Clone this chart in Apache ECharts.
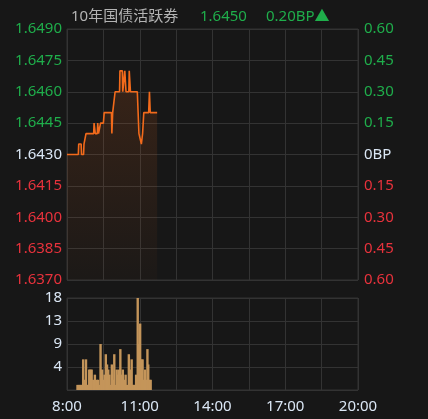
<!DOCTYPE html>
<html><head><meta charset="utf-8">
<script src="https://cdn.jsdelivr.net/npm/echarts@6/dist/echarts.min.js"></script>
<style>html,body{margin:0;padding:0;background:#171717;}#c{width:428px;height:419px;}</style>
</head><body><div id="c"></div>
<script>
// Minutes since 8:00 and price
const priceTimes = [0, 28, 29, 35, 36, 41, 42, 45, 47, 66, 67, 69, 70, 75, 76, 77, 78, 82, 83, 90, 92, 110, 111, 112, 113, 116, 119, 130, 131, 137, 138, 142, 143, 145, 146, 153, 154, 156, 157, 174, 176, 178, 182, 184, 187, 190, 202, 204, 206, 223];
const prices = [1.6430, 1.6430, 1.6435, 1.6435, 1.6430, 1.6430, 1.6435, 1.6435, 1.6440, 1.6440, 1.6445, 1.6445, 1.6440, 1.6440, 1.6445, 1.6445, 1.6440, 1.6440, 1.6445, 1.6445, 1.6450, 1.6450, 1.6440, 1.6440, 1.6450, 1.6450, 1.6460, 1.6460, 1.6470, 1.6470, 1.6460, 1.6460, 1.6470, 1.6470, 1.6460, 1.6460, 1.6470, 1.6470, 1.6460, 1.6460, 1.6450, 1.6440, 1.6440, 1.6435, 1.6440, 1.6450, 1.6450, 1.6460, 1.6450, 1.6450];
const basePrice = 1.6430;

const volTimes = [26, 29, 32, 35, 38, 40, 44, 47, 50, 52, 55, 58, 61, 65, 69, 74, 77, 80, 83, 87, 90, 93, 96, 99, 102, 105, 108, 111, 114, 117, 120, 123, 126, 129, 132, 135, 138, 141, 145, 149, 153, 157, 160, 163, 166, 168, 171, 175, 178, 181, 184, 187, 190, 193, 196, 199, 201, 204, 207];
const volumes = [1, 1, 1, 1, 1, 6, 2, 6, 1, 1, 4, 4, 4, 2, 3, 2, 2, 1, 9, 4, 2, 3, 7, 5, 4, 3, 1, 5, 2, 7, 1, 4, 3, 4, 8, 3, 4, 2, 3, 1, 7, 4, 6, 1, 1, 1, 3, 18, 9, 13, 6, 6, 2, 4, 2, 8, 5, 2, 2];

const leftTicks = ['1.6370', '1.6385', '1.6400', '1.6415', '1.6430', '1.6445', '1.6460', '1.6475', '1.6490'];
const rightTicks = ['0.60', '0.45', '0.30', '0.15', '0BP', '0.15', '0.30', '0.45', '0.60'];
const volTicks = ['', '4', '9', '13', '18'];
const xTicks = ['8:00', '', '11:00', '', '14:00', '', '17:00', '', '20:00'];

const titleName = '10年国债活跃券';
const titlePrice = '1.6450';
const titleChange = '0.20BP▲';

const GREEN = '#1fae4b', RED = '#e8323c', WHITE = '#dbe7f5', GRID = '#333333';
const FONT = '"Noto Sans", "Noto Sans CJK SC", sans-serif';

const lineData = priceTimes.map((t, i) => [t, Math.round((prices[i] - basePrice) * 100000) / 10]);
const volData = volTimes.map((t, i) => [t, volumes[i]]);

function tickColor(v, i) { return i > 4 ? GREEN : (i === 4 ? WHITE : RED); }

const chart = echarts.init(document.getElementById('c'), null, {renderer: 'canvas'});
chart.setOption({
  backgroundColor: '#171717',
  animation: false,
  textStyle: {fontFamily: FONT},
  title: [
    {text: titleName, left: 66, top: 4, textStyle: {color: '#b4b4b4', fontSize: 15, fontWeight: 'normal', fontFamily: FONT}},
    {text: titlePrice, left: 195, top: 4, textStyle: {color: GREEN, fontSize: 15, fontWeight: 'normal', fontFamily: FONT}},
    {text: titleChange, left: 261, top: 4, textStyle: {color: GREEN, fontSize: 15, fontWeight: 'normal', fontFamily: FONT}}
  ],
  grid: [
    {left: 67, right: 70, top: 29, height: 251, show: true, borderColor: GRID, borderWidth: 1},
    {left: 67, right: 70, top: 298, height: 92, show: true, borderColor: GRID, borderWidth: 1}
  ],
  xAxis: [
    {type: 'value', gridIndex: 0, min: 0, max: 720, interval: 90,
     axisLine: {show: false}, axisTick: {show: false}, axisLabel: {show: false},
     splitLine: {show: true, lineStyle: {color: GRID, width: 1}}},
    {type: 'value', gridIndex: 1, min: 0, max: 720, interval: 90,
     axisLine: {show: false}, axisTick: {show: false},
     axisLabel: {show: true, color: WHITE, fontSize: 15, fontFamily: FONT, margin: 9,
       formatter: (v, i) => xTicks[Math.round(v / 90)] || ''},
     splitLine: {show: true, lineStyle: {color: GRID, width: 1}}}
  ],
  yAxis: [
    {type: 'value', gridIndex: 0, min: -60, max: 60, interval: 15, position: 'left',
     axisLine: {show: false}, axisTick: {show: false},
     axisLabel: {color: (v, i) => tickColor(v, Math.round((v + 60) / 15)), fontSize: 15, fontFamily: FONT, margin: 5,
       formatter: (v) => leftTicks[Math.round((v + 60) / 15)]},
     splitLine: {show: true, lineStyle: {color: GRID, width: 1}}},
    {type: 'value', gridIndex: 0, min: -60, max: 60, interval: 15, position: 'right',
     axisLine: {show: false}, axisTick: {show: false},
     axisLabel: {color: (v, i) => tickColor(v, Math.round((v + 60) / 15)), fontSize: 15, fontFamily: FONT, margin: 6,
       formatter: (v) => rightTicks[Math.round((v + 60) / 15)]},
     splitLine: {show: false}},
    {type: 'value', gridIndex: 1, min: 0, max: 18, interval: 4.5,
     axisLine: {show: false}, axisTick: {show: false},
     axisLabel: {color: WHITE, fontSize: 15, fontFamily: FONT, margin: 5,
       formatter: (v) => volTicks[Math.round(v / 4.5)]},
     splitLine: {show: true, lineStyle: {color: GRID, width: 1}}}
  ],
  series: [
    {type: 'line', xAxisIndex: 0, yAxisIndex: 0, data: lineData, showSymbol: false, symbol: 'none',
     lineStyle: {color: '#f26a1b', width: 1.6},
     areaStyle: {origin: 'start', color: new echarts.graphic.LinearGradient(0, 0, 0, 1, [
       {offset: 0, color: 'rgba(242,106,27,0.22)'},
       {offset: 1, color: 'rgba(242,106,27,0.03)'}])}},
    {type: 'bar', xAxisIndex: 1, yAxisIndex: 2, data: volData, barWidth: 2.4,
     itemStyle: {color: '#c4955a'}}
  ]
});
</script></body></html>
